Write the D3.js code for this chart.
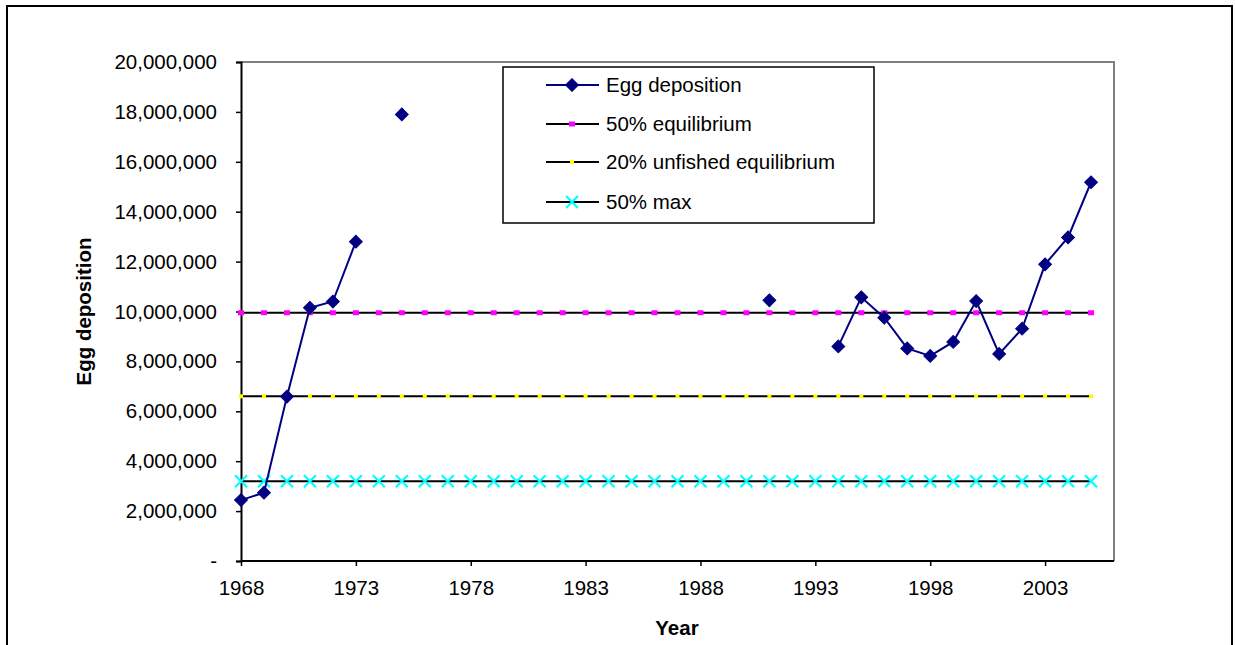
<!DOCTYPE html>
<html>
<head>
<meta charset="utf-8">
<script src="https://cdn.jsdelivr.net/npm/d3@7/dist/d3.min.js"></script>
<style>
  html, body { margin: 0; padding: 0; background: #fff; }
  svg { display: block; font-family: "Liberation Sans", Arial, sans-serif; }
</style>
</head>
<body>
<svg id="chart" width="1235" height="645"></svg>
<script>
// Years on the category axis (last category carries no data)
const years = d3.range(1968, 2007);
const dataYears = d3.range(1968, 2006);

// Egg deposition by year (null = no survey)
const eggDeposition = [
  2440000, 2740000, 6590000, 10150000, 10400000, 12800000, null, 17900000,
  null, null, null, null, null, null, null, null, null, null, null, null, null, null, null,
  10450000, null, null, 8600000, 10570000, 9750000, 8520000, 8220000, 8780000,
  10420000, 8300000, 9310000, 11890000, 12970000, 15180000
];

// Reference levels
const equilibrium50 = 9950000;
const unfished20 = 6600000;
const max50 = 3200000;

const yTicks = d3.range(0, 20000001, 2000000);
const xTickYears = [1968, 1973, 1978, 1983, 1988, 1993, 1998, 2003];

const legendLabels = ["Egg deposition", "50% equilibrium", "20% unfished equilibrium", "50% max"];

const svg = d3.select("#chart");
const plot = { left: 241, right: 1114, top: 62, bottom: 561 };
const FONT = 20.5;

// outer frame
svg.append("rect").attr("x", 7).attr("y", 6).attr("width", 1225).attr("height", 720)
  .attr("fill", "#fff").attr("stroke", "#000").attr("stroke-width", 2);

const x = d3.scaleLinear().domain([1968, 2006]).range([plot.left, plot.right]);
const y = d3.scaleLinear().domain([0, 20000000]).range([plot.bottom, plot.top]);

// plot area border (top and right)
svg.append("path")
  .attr("d", `M${plot.left},${plot.top}H${plot.right}V${plot.bottom}`)
  .attr("fill", "none").attr("stroke", "#808080").attr("stroke-width", 2);

// y axis
const yAxis = d3.axisLeft(y).tickValues(yTicks).tickSize(5).tickPadding(19)
  .tickFormat(d => d === 0 ? "-" : d3.format(",")(d));
const gy = svg.append("g").attr("transform", `translate(${plot.left},0)`).call(yAxis);
gy.select(".domain").attr("stroke", "#000").attr("stroke-width", 2);
gy.selectAll(".tick line").attr("stroke", "#000").attr("stroke-width", 1.5);
gy.selectAll(".tick text").attr("font-size", FONT).attr("font-family", "Liberation Sans, Arial, sans-serif").attr("fill", "#000");

// x axis
const xAxis = d3.axisBottom(x).tickValues(xTickYears).tickSize(5).tickPadding(14)
  .tickFormat(d3.format("d"));
const gx = svg.append("g").attr("transform", `translate(0,${plot.bottom})`).call(xAxis);
gx.select(".domain").attr("d", `M${plot.left},0H${plot.right}`).attr("stroke", "#000").attr("stroke-width", 2);
gx.selectAll(".tick line").attr("stroke", "#000").attr("stroke-width", 1.5);
gx.selectAll(".tick text").attr("font-size", FONT).attr("font-family", "Liberation Sans, Arial, sans-serif").attr("fill", "#000");

// axis titles
svg.append("text").attr("x", 677).attr("y", 635).attr("text-anchor", "middle")
  .attr("font-size", FONT).attr("font-weight", "bold").text("Year");
svg.append("text").attr("transform", `translate(91,${(plot.top + plot.bottom) / 2}) rotate(-90)`)
  .attr("text-anchor", "middle").attr("font-size", FONT).attr("font-weight", "bold").text("Egg deposition");

// marker helpers
const diamond = d3.symbol().type(d3.symbolSquare).size(82)();
function drawDiamond(g, cx, cy) {
  g.append("path").attr("d", diamond).attr("transform", `translate(${cx},${cy}) rotate(45)`)
    .attr("fill", "#000080").attr("stroke", "#000080").attr("stroke-width", 1);
}
function drawSquare(g, cx, cy, color, w, h) {
  g.append("rect").attr("x", cx - w / 2).attr("y", cy - h / 2).attr("width", w).attr("height", h).attr("fill", color);
}
function drawCross(g, cx, cy) {
  const s = 6;
  g.append("path").attr("d", `M${cx - s},${cy - s}L${cx + s},${cy + s}M${cx - s},${cy + s}L${cx + s},${cy - s}`)
    .attr("stroke", "#00FFFF").attr("stroke-width", 2.2).attr("fill", "none");
}

// reference lines with markers at every year
const refSeries = [
  { value: equilibrium50, marker: (g, cx, cy) => drawSquare(g, cx, cy, "#FF00FF", 6, 5) },
  { value: unfished20, marker: (g, cx, cy) => drawSquare(g, cx, cy, "#FFFF00", 4, 4) },
  { value: max50, marker: drawCross }
];
const refLine = d3.line().x(d => x(d)).y(0);
refSeries.forEach(s => {
  const g = svg.append("g");
  g.append("path").datum(dataYears)
    .attr("d", d3.line().x(d => x(d)).y(() => y(s.value)))
    .attr("stroke", "#000").attr("stroke-width", 2).attr("fill", "none");
  dataYears.forEach(yr => s.marker(g, x(yr), y(s.value)));
});

// egg deposition series
const eggPts = dataYears.map((yr, i) => ({ yr, v: eggDeposition[i] }));
const eggLine = d3.line().defined(d => d.v !== null).x(d => x(d.yr)).y(d => y(d.v));
const ge = svg.append("g");
ge.append("path").datum(eggPts).attr("d", eggLine)
  .attr("stroke", "#000080").attr("stroke-width", 2).attr("fill", "none");
eggPts.filter(d => d.v !== null).forEach(d => drawDiamond(ge, x(d.yr), y(d.v)));

// legend
const lg = svg.append("g");
lg.append("rect").attr("x", 503).attr("y", 67).attr("width", 371).attr("height", 156)
  .attr("fill", "#fff").attr("stroke", "#000").attr("stroke-width", 1.5);
const rowY = [85, 124, 162, 202];
const legendMarkers = [
  (g, cx, cy) => drawDiamond(g, cx, cy),
  (g, cx, cy) => drawSquare(g, cx, cy, "#FF00FF", 6, 5),
  (g, cx, cy) => drawSquare(g, cx, cy, "#FFFF00", 4, 4),
  drawCross
];
legendLabels.forEach((lab, i) => {
  const cy = rowY[i];
  lg.append("line").attr("x1", 546).attr("x2", 599).attr("y1", cy).attr("y2", cy)
    .attr("stroke", i === 0 ? "#000080" : "#000").attr("stroke-width", 2);
  legendMarkers[i](lg, 572, cy);
  lg.append("text").attr("x", 606).attr("y", cy + 7).attr("font-size", FONT).text(lab);
});
</script>
</body>
</html>
